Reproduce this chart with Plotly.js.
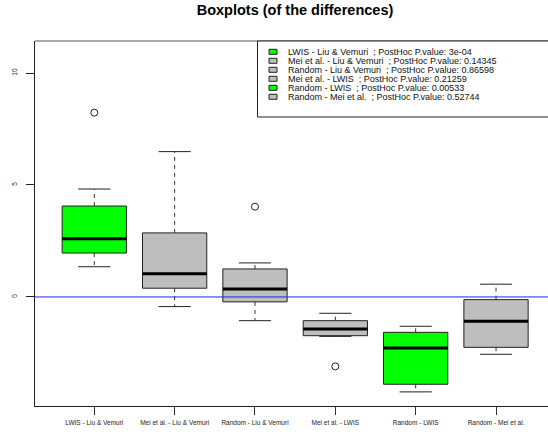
<!DOCTYPE html>
<html>
<head>
<meta charset="utf-8">
<script src="https://cdn.plot.ly/plotly-3.0.1.min.js"></script>
<style>html,body{margin:0;padding:0;background:#fff;}#chart{width:548px;height:439px;}</style>
</head>
<body>
<div id="chart"></div>
<script>
const categories = ["LWIS - Liu & Vemuri", "Mei et al. - Liu & Vemuri", "Random - Liu & Vemuri", "Mei et al. - LWIS", "Random - LWIS", "Random - Mei et al."];
const q1 = [1.96, 0.39, -0.22, -1.73, -3.90, -2.25];
const medians = [2.60, 1.04, 0.36, -1.43, -2.28, -1.09];
const q3 = [4.06, 2.86, 1.25, -1.06, -1.58, -0.12];
const lowerWhisker = [1.35, -0.43, -1.06, -1.76, -4.24, -2.56];
const upperWhisker = [4.82, 6.49, 1.52, -0.73, -1.31, 0.57];
const outliers = [[8.23], [], [4.03], [-3.10], [], []];
const pValues = ["3e-04", "0.14345", "0.86598", "0.21259", "0.00533", "0.52744"];
const yTicks = [0, 5, 10];

const GREEN = "#00FF00", GRAY = "#BEBEBE";
const colorOf = p => (parseFloat(p) < 0.05 ? GREEN : GRAY);
const FONT = "Liberation Sans, Arial, Helvetica, sans-serif";

const halfBox = 0.4, halfCap = 0.2;
const traces = [];
categories.forEach((c, k) => {
  const i = k + 1;
  // whiskers (dashed)
  traces.push({
    type: "scatter", mode: "lines",
    x: [i, i, null, i, i], y: [q3[k], upperWhisker[k], null, q1[k], lowerWhisker[k]],
    line: {color: "#333", width: 1, dash: "4px,4px"}, hoverinfo: "skip"
  });
  // caps
  traces.push({
    type: "scatter", mode: "lines",
    x: [i - halfCap, i + halfCap, null, i - halfCap, i + halfCap],
    y: [upperWhisker[k], upperWhisker[k], null, lowerWhisker[k], lowerWhisker[k]],
    line: {color: "#222", width: 1}, hoverinfo: "skip"
  });
  // box
  traces.push({
    type: "scatter", mode: "lines", fill: "toself", fillcolor: colorOf(pValues[k]),
    x: [i - halfBox, i + halfBox, i + halfBox, i - halfBox, i - halfBox],
    y: [q1[k], q1[k], q3[k], q3[k], q1[k]],
    line: {color: "#222", width: 1}, hoverinfo: "skip"
  });
  // median
  traces.push({
    type: "scatter", mode: "lines",
    x: [i - halfBox, i + halfBox], y: [medians[k], medians[k]],
    line: {color: "#000", width: 3}, hoverinfo: "skip"
  });
  // outliers
  if (outliers[k].length) {
    traces.push({
      type: "scatter", mode: "markers",
      x: outliers[k].map(() => i), y: outliers[k],
      marker: {symbol: "circle-open", size: 7, color: "#222", line: {width: 1}}, hoverinfo: "skip"
    });
  }
});

// layout helpers (pixel -> paper) for the legend block
const L = 35, R = 548, T = 41, B = 406;
const px = v => (v - L) / (R - L);
const py = v => (B - v) / (B - T);

const shapes = [
  {type: "line", xref: "paper", yref: "y", x0: 0, x1: 1, y0: 0, y1: 0, line: {color: "#2222ff", width: 1}, layer: "above"},
  {type: "line", xref: "paper", yref: "paper", x0: 0, x1: 1, y0: 1, y1: 1, line: {color: "#555", width: 1}, layer: "above"},
  {type: "rect", xref: "paper", yref: "paper", x0: px(257.5), x1: px(560), y0: py(117), y1: 1, fillcolor: "#fff", line: {color: "#222", width: 1}, layer: "above"}
];
const annotations = [];
const row0 = 51.8, rowStep = 9;
categories.forEach((c, k) => {
  const yc = row0 + rowStep * k;
  shapes.push({type: "rect", xref: "paper", yref: "paper", x0: px(269), x1: px(277), y0: py(yc + 2.5), y1: py(yc - 2.5),
    fillcolor: colorOf(pValues[k]), line: {color: "#222", width: 1}, layer: "above"});
  annotations.push({xref: "paper", yref: "paper", x: px(286), y: py(yc), xanchor: "left", yanchor: "middle",
    showarrow: false, text: c + "\u00a0 ; PostHoc P.value: " + pValues[k], font: {family: FONT, size: 9, color: "#111"}});
});

const layout = {
  width: 548, height: 439,
  margin: {l: L, r: 0, t: T, b: 439 - B, pad: 0},
  paper_bgcolor: "#fff", plot_bgcolor: "#fff",
  showlegend: false, hovermode: false,
  title: {text: "Boxplots (of the differences)", x: px(295), xref: "paper", xanchor: "center",
    y: 1 - 10 / 439, yref: "container", yanchor: "middle",
    font: {family: FONT, size: 14.5, weight: "bold", color: "#000"}},
  xaxis: {range: [0.262, 6.647], tickvals: categories.map((c, k) => k + 1), ticktext: categories,
    showgrid: false, zeroline: false, showline: true, linecolor: "#222", linewidth: 1,
    ticks: "outside", ticklen: 8, tickcolor: "#333", tickwidth: 1, ticklabelstandoff: 2,
    tickfont: {family: FONT, size: 6.5, color: "#222"}, tickangle: 0},
  yaxis: {range: [-4.87, 11.43], tickvals: yTicks, ticktext: yTicks.map(String),
    showgrid: false, zeroline: false, showline: true, linecolor: "#222", linewidth: 1,
    ticks: "outside", ticklen: 8, tickcolor: "#222", tickwidth: 1, tickangle: -90, ticklabelstandoff: 6,
    tickfont: {family: FONT, size: 6.5, color: "#222"}},
  shapes: shapes, annotations: annotations
};

Plotly.newPlot("chart", traces, layout, {staticPlot: true, displayModeBar: false});
</script>
</body>
</html>
